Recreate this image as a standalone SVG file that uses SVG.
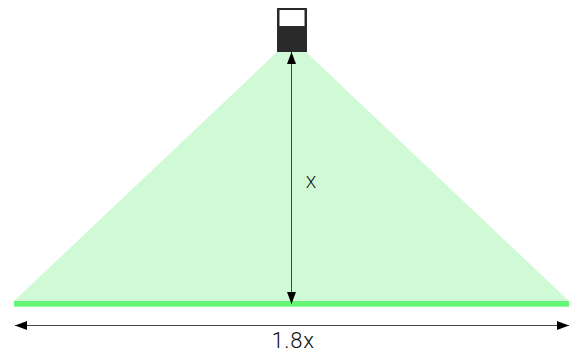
<svg xmlns="http://www.w3.org/2000/svg" width="578" height="351" viewBox="0 0 578 351">
<defs>
<marker id="ah" markerUnits="userSpaceOnUse" markerWidth="13" markerHeight="10" refX="12" refY="5" orient="auto-start-reverse"><path d="M0 0.500L12 5L0 9.500Z" fill="#000"/></marker>
</defs>
<style>
.lbl{font-family:"Roboto","Liberation Sans",Arial,sans-serif;fill:#111;font-weight:300}
.dim{stroke:#444;stroke-width:1;fill:none;marker-start:url(#ah);marker-end:url(#ah)}
</style>
<rect width="578" height="351" fill="#fff"/>
<g id="cone"><polygon points="277,52 306,52 569,301 14,301" fill="#d0fad5"/></g>
<g id="floor"><rect x="14" y="301" width="555" height="5.700" fill="#66f577"/></g>
<g id="sensor">
<rect x="277" y="8" width="30" height="44" fill="#2a2a2a"/>
<rect x="279.500" y="10" width="25" height="16" fill="#fff"/>
</g>
<g id="connectors">
<line class="dim" x1="291.500" y1="52" x2="291.500" y2="304"/>
<line class="dim" x1="15" y1="325.500" x2="569" y2="325.500"/>
</g>
<g id="label-x"><text class="lbl" x="311" y="188" font-size="17" text-anchor="middle">X</text></g>
<g id="label-18x"><text class="lbl" x="293" y="347.500" font-size="22" letter-spacing="0.700" text-anchor="middle">1.8x</text></g>
</svg>
